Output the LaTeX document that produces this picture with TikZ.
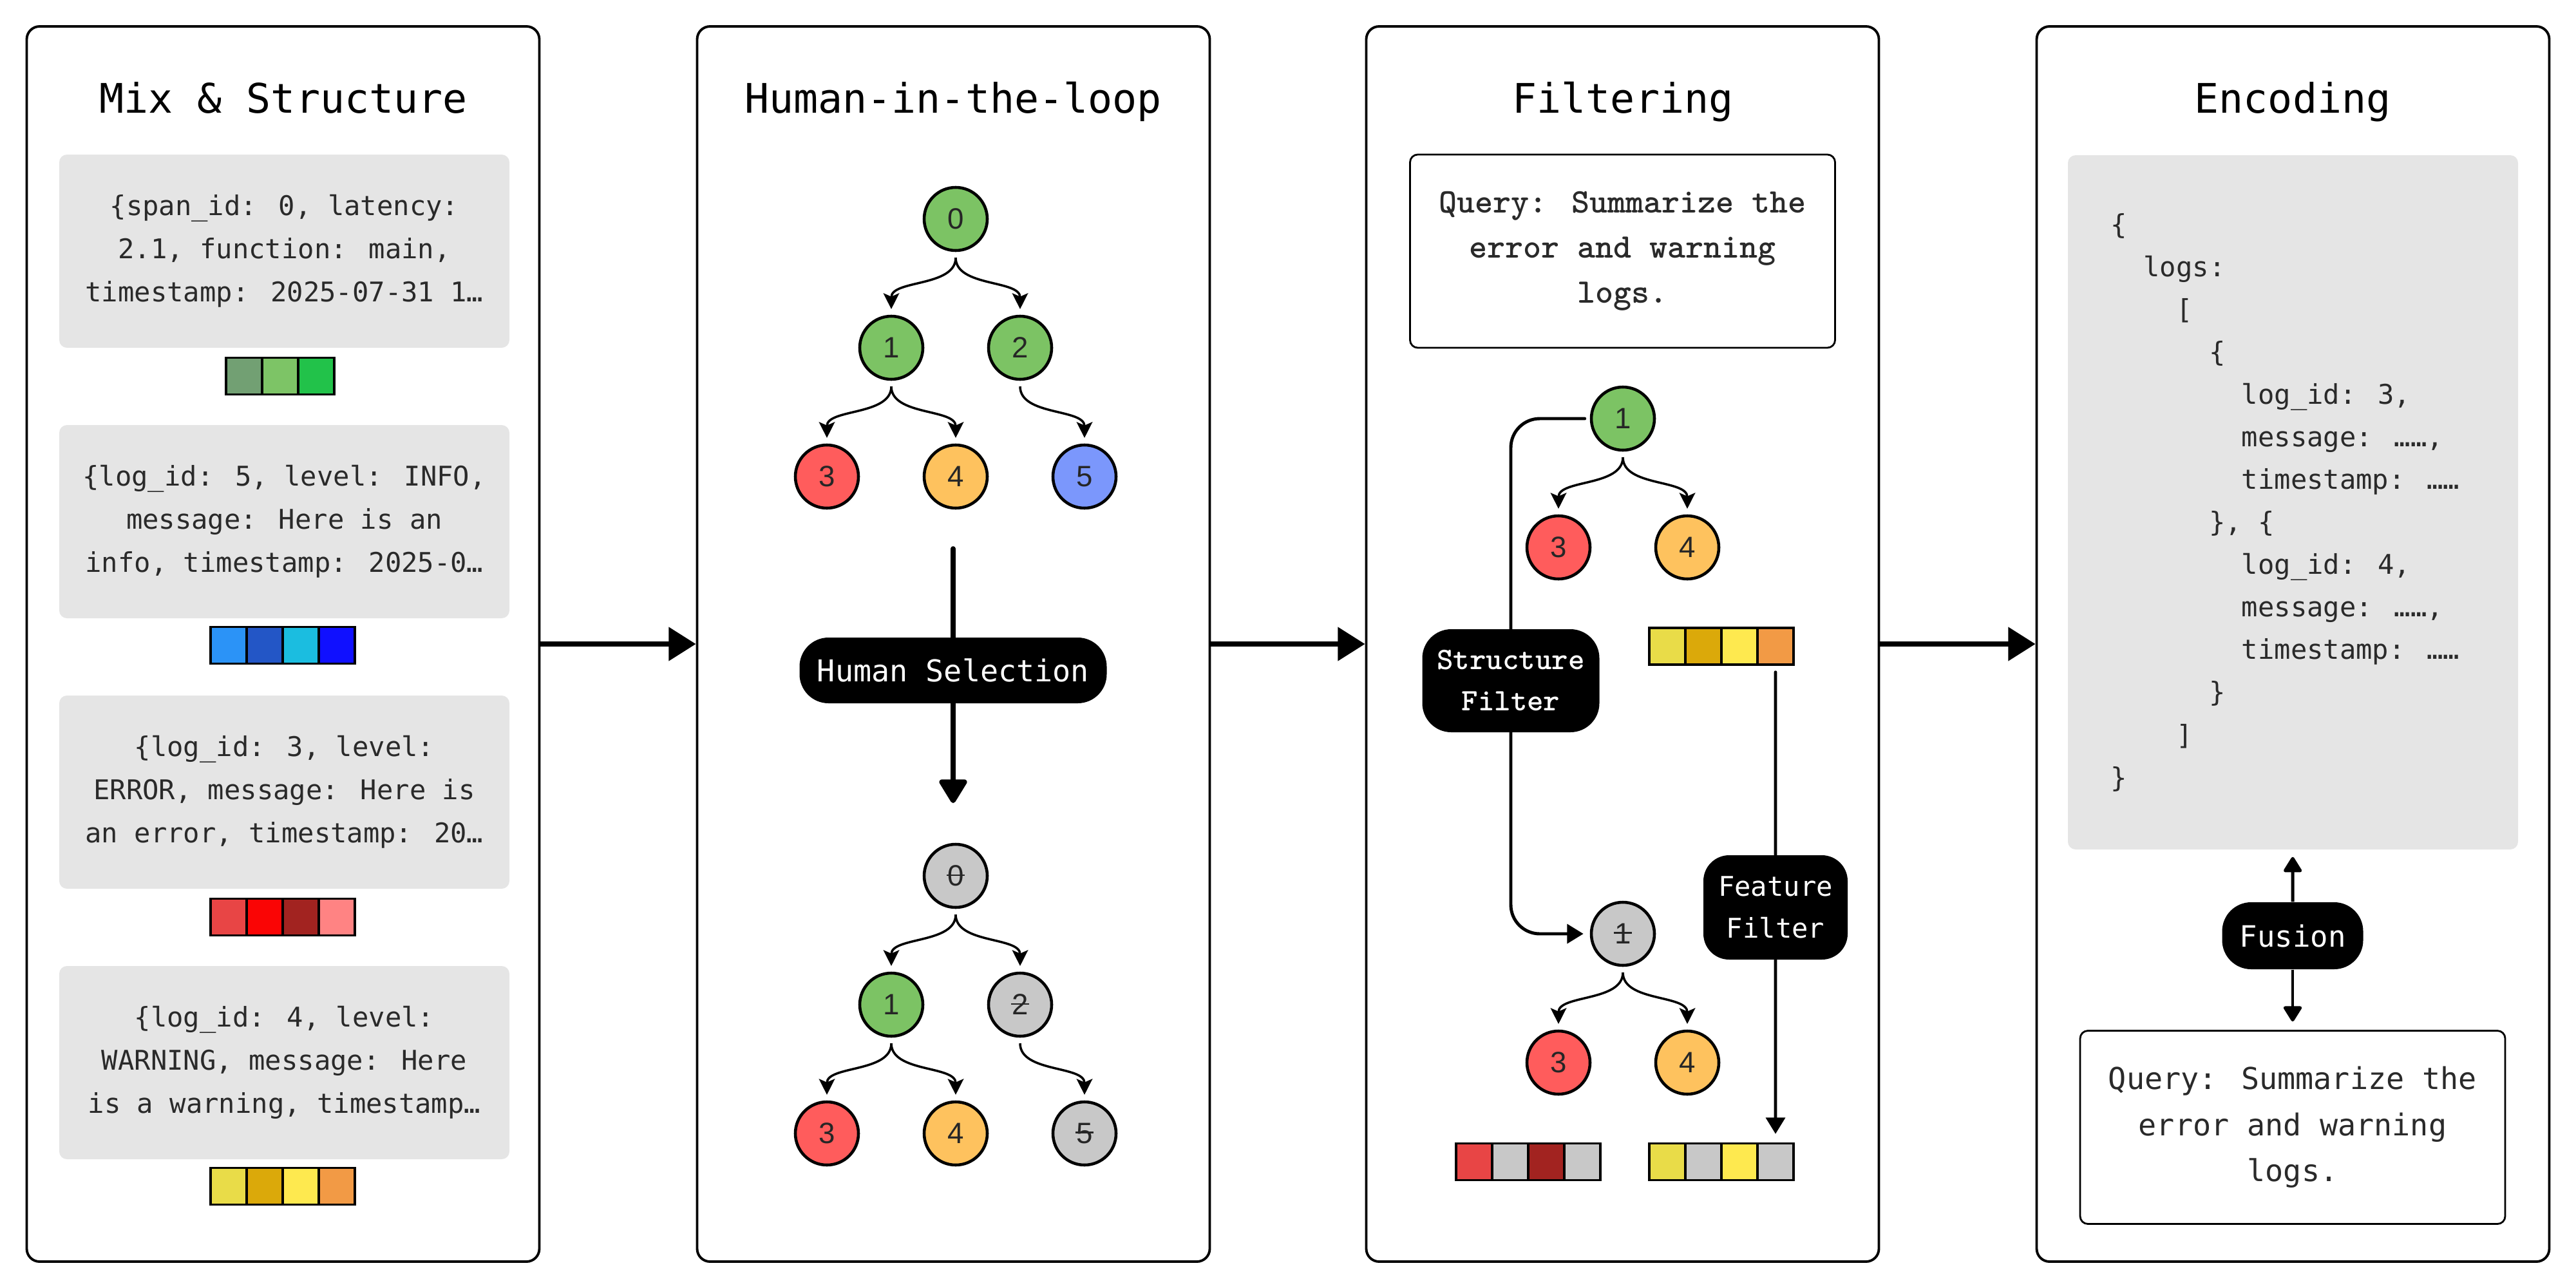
\documentclass[tikz,border=0pt]{standalone}
\usepackage{fontspec}
\usepackage{xcolor}
\usepackage{tikz}
\usetikzlibrary{arrows.meta, positioning}

\newfontfamily\plexmono{DejaVu Sans Mono}
\newfontfamily\numfont{Liberation Sans}

\definecolor{boxgray}{HTML}{E5E5E5}
\definecolor{txtgray}{HTML}{2A2A2A}
\definecolor{nodegreen}{HTML}{7CC364}
\definecolor{nodered}{HTML}{FF5C5C}
\definecolor{nodeorange}{HTML}{FEC25E}
\definecolor{nodeblue}{HTML}{7B97FC}
\definecolor{nodegray}{HTML}{C8C8C8}
\definecolor{g1}{HTML}{72A073}
\definecolor{g2}{HTML}{7DC466}
\definecolor{g3}{HTML}{22C24A}
\definecolor{b1}{HTML}{2B93F7}
\definecolor{b2}{HTML}{2356C6}
\definecolor{b3}{HTML}{1BBDE0}
\definecolor{b4}{HTML}{1010FF}
\definecolor{r1}{HTML}{E84545}
\definecolor{r2}{HTML}{FA0505}
\definecolor{r3}{HTML}{A22320}
\definecolor{r4}{HTML}{FF8383}
\definecolor{y1}{HTML}{E9DC48}
\definecolor{y2}{HTML}{DBA90A}
\definecolor{y3}{HTML}{FEE94F}
\definecolor{y4}{HTML}{F29A45}

\newcommand{\struck}[1]{\ooalign{#1\cr\hidewidth\rule[0.34em]{0.62em}{0.06em}\hidewidth\cr}}

\begin{document}
\begin{tikzpicture}[
        on grid,
        panel/.style={draw, line width=1.1pt, rounded corners=0.2cm, minimum width=7.96cm, minimum height=19.18cm},
        title/.style={anchor=base, font=\plexmono\fontsize{18}{22}\selectfont},
        logbox/.style={fill=boxgray, rounded corners=0.12cm, minimum width=6.99cm, minimum height=3cm, align=center, text=txtgray, font=\plexmono\fontsize{12}{19}\selectfont},
        querybox/.style={draw, line width=0.8pt, rounded corners=0.12cm, minimum width=6.6cm, minimum height=3cm, align=center, text=txtgray},
        cell/.style={draw, line width=1pt, minimum width=0.56cm, minimum height=0.57cm, inner sep=0pt},
        tnode/.style={circle, draw, line width=1.3pt, minimum size=0.98cm, inner sep=0pt, text=black!85, font=\numfont\fontsize{13}{13}\selectfont},
        tedge/.style={-{Stealth[length=7pt,width=7pt,inset=1.5pt]}, line width=1pt, shorten <=2.5pt, shorten >=2.5pt},
        pill/.style={fill=black, text=white, rounded corners=0.45cm, align=center, inner sep=0pt},
        bigarrow/.style={-{Triangle[length=12pt,width=14.5pt]}, line width=2.2pt},
        fat/.style={line width=2.2pt, line cap=round},
        fatarrow/.style={fat, -{Triangle[length=11.5pt,width=13.4pt,round]}},
        flow/.style={line width=1.4pt, line cap=round},
        flowarrow/.style={flow, -{Triangle[length=7.2pt,width=8.4pt]}},
        fusearrow/.style={line width=1.4pt, -{Triangle[length=7.4pt,width=8.8pt,round]}}
    ]
        \useasboundingbox (0,0) rectangle (40,-20);

        % Panels
        \node (p1) [panel] at (4.395,-10.0) {};
        \node (p2) [panel] at (14.805,-10.0) {};
        \node (p3) [panel] at (25.195,-10.0) {};
        \node (p4) [panel] at (35.605,-10.0) {};

        \node (t1) [title] at (4.40,-1.75) {Mix \& Structure};
        \node (t2) [title] at (14.80,-1.75) {Human-in-the-loop};
        \node (t3) [title] at (25.20,-1.75) {Filtering};
        \node (t4) [title] at (35.60,-1.75) {Encoding};

        % Mix & Structure: raw records
        \node (s1) [logbox] at (4.415,-3.90) {\{span\_id: 0, latency:\\2.1, function: main,\\timestamp: 2025-07-31 1…};
        \node (s2) [logbox] at (4.415,-8.10) {\{log\_id: 5, level: INFO,\\message: Here is an\\info, timestamp: 2025-0…};
        \node (s3) [logbox] at (4.415,-12.30) {\{log\_id: 3, level:\\ERROR, message: Here is\\an error, timestamp: 20…};
        \node (s4) [logbox] at (4.415,-16.50) {\{log\_id: 4, level:\\WARNING, message: Here\\is a warning, timestamp…};

        \foreach \c [count=\i] in {g1,g2,g3}
            \node (m1\i) [cell, fill=\c] at (3.23+0.56*\i,-5.84) {};
        \foreach \c [count=\i] in {b1,b2,b3,b4}
            \node (m2\i) [cell, fill=\c] at (2.99+0.56*\i,-10.02) {};
        \foreach \c [count=\i] in {r1,r2,r3,r4}
            \node (m3\i) [cell, fill=\c] at (2.99+0.56*\i,-14.24) {};
        \foreach \c [count=\i] in {y1,y2,y3,y4}
            \node (m4\i) [cell, fill=\c] at (2.99+0.56*\i,-18.42) {};

        % Human-in-the-loop: full tree
        \node (a0) [tnode, fill=nodegreen] at (14.84,-3.40) {0};
        \node (a1) [tnode, fill=nodegreen, below left=2cm and 1cm of a0] {1};
        \node (a2) [tnode, fill=nodegreen, below right=2cm and 1cm of a0] {2};
        \node (a3) [tnode, fill=nodered, below left=2cm and 1cm of a1] {3};
        \node (a4) [tnode, fill=nodeorange, below right=2cm and 1cm of a1] {4};
        \node (a5) [tnode, fill=nodeblue, below right=2cm and 1cm of a2] {5};
        \draw [tedge] (a0) to[out=-90, in=90] (a1);
        \draw [tedge] (a0) to[out=-90, in=90] (a2);
        \draw [tedge] (a1) to[out=-90, in=90] (a3);
        \draw [tedge] (a1) to[out=-90, in=90] (a4);
        \draw [tedge] (a2) to[out=-90, in=90] (a5);

        % Human-in-the-loop: selection
        \node (hs) [pill, minimum width=4.77cm, minimum height=1.02cm, font=\plexmono\fontsize{13.3}{16}\selectfont] at (14.80,-10.41) {Human Selection};
        \coordinate (hstop) at (14.80,-8.52);
        \coordinate (hsend) at (14.80,-12.47);
        \draw [fat] (hstop) -- (hs);
        \draw [fatarrow] (hs) -- (hsend);

        % Human-in-the-loop: pruned tree
        \node (b0) [tnode, fill=nodegray] at (14.84,-13.60) {\struck{0}};
        \node (b1) [tnode, fill=nodegreen, below left=2cm and 1cm of b0] {1};
        \node (b2) [tnode, fill=nodegray, below right=2cm and 1cm of b0] {\struck{2}};
        \node (b3) [tnode, fill=nodered, below left=2cm and 1cm of b1] {3};
        \node (b4) [tnode, fill=nodeorange, below right=2cm and 1cm of b1] {4};
        \node (b5) [tnode, fill=nodegray, below right=2cm and 1cm of b2] {\struck{5}};
        \draw [tedge] (b0) to[out=-90, in=90] (b1);
        \draw [tedge] (b0) to[out=-90, in=90] (b2);
        \draw [tedge] (b1) to[out=-90, in=90] (b3);
        \draw [tedge] (b1) to[out=-90, in=90] (b4);
        \draw [tedge] (b2) to[out=-90, in=90] (b5);

        % Filtering
        \node (q1) [querybox, font=\ttfamily\bfseries\fontsize{15.2}{19.9}\selectfont] at (25.195,-3.90) {Query: Summarize the\\error and warning\\logs.};

        \node (c1) [tnode, fill=nodegreen] at (25.20,-6.50) {1};
        \node (c3) [tnode, fill=nodered, below left=2cm and 1cm of c1] {3};
        \node (c4) [tnode, fill=nodeorange, below right=2cm and 1cm of c1] {4};
        \draw [tedge] (c1) to[out=-90, in=90] (c3);
        \draw [tedge] (c1) to[out=-90, in=90] (c4);

        \foreach \c [count=\i] in {y1,y2,y3,y4}
            \node (fy\i) [cell, fill=\c] at (25.33+0.56*\i,-10.035) {};

        \node (d1) [tnode, fill=nodegray] at (25.20,-14.50) {\struck{1}};
        \node (d3) [tnode, fill=nodered, below left=2cm and 1cm of d1] {3};
        \node (d4) [tnode, fill=nodeorange, below right=2cm and 1cm of d1] {4};
        \draw [tedge] (d1) to[out=-90, in=90] (d3);
        \draw [tedge] (d1) to[out=-90, in=90] (d4);

        \foreach \c [count=\i] in {r1,nodegray,r3,nodegray}
            \node (hr\i) [cell, fill=\c] at (22.33+0.56*\i,-18.04) {};
        \foreach \c [count=\i] in {y1,nodegray,y3,nodegray}
            \node (hy\i) [cell, fill=\c] at (25.33+0.56*\i,-18.04) {};

        \node (sf) [pill, minimum width=2.75cm, minimum height=1.6cm, font=\ttfamily\bfseries\fontsize{13.8}{18.2}\selectfont] at (23.46,-10.57) {Structure\\Filter};
        \draw [flow, rounded corners=0.45cm, shorten <=0.08cm] (c1.west) -| (sf.north);
        \draw [flowarrow, rounded corners=0.45cm, shorten >=0.1cm] (sf.south) |- (d1.west);

        \node (ff) [pill, rounded corners=0.4cm, minimum width=2.24cm, minimum height=1.62cm, font=\plexmono\fontsize{12}{18.5}\selectfont] at (27.57,-14.09) {Feature\\Filter};
        \draw [flow, shorten <=0.1cm] (fy4.south) -- (ff.north);
        \draw [flowarrow, shorten >=0.13cm] (ff.south) -- (hy4.north);

        % Encoding
        \node (g) [fill=boxgray, rounded corners=0.12cm, minimum width=6.99cm, minimum height=10.78cm] at (35.605,-7.80) {};
        \node (code) [anchor=west, align=left, inner sep=0pt, text=txtgray, font=\plexmono\fontsize{12}{18.8}\selectfont] at (32.77,-7.80) {%
            \{\\
            \phantom{xx}logs:\\
            \phantom{xxxx}[\\
            \phantom{xxxxxx}\{\\
            \phantom{xxxxxxxx}log\_id: 3,\\
            \phantom{xxxxxxxx}message: ……,\\
            \phantom{xxxxxxxx}timestamp: ……\\
            \phantom{xxxxxx}\}, \{\\
            \phantom{xxxxxxxx}log\_id: 4,\\
            \phantom{xxxxxxxx}message: ……,\\
            \phantom{xxxxxxxx}timestamp: ……\\
            \phantom{xxxxxx}\}\\
            \phantom{xxxx}]\\
            \}};

        \node (fu) [pill, minimum width=2.19cm, minimum height=1.04cm, font=\plexmono\fontsize{13}{16}\selectfont] at (35.60,-14.53) {Fusion};
        \node (q2) [querybox, font=\plexmono\fontsize{13.3}{20.4}\selectfont] at (35.60,-17.505) {Query: Summarize the\\error and warning\\logs.};
        \draw [fusearrow, shorten >=0.11cm] (fu) -- (g);
        \draw [fusearrow, shorten >=0.13cm] (fu) -- (q2);

        % Connections between stages
        \draw [bigarrow] (p1) -- (p2);
        \draw [bigarrow] (p2) -- (p3);
        \draw [bigarrow] (p3) -- (p4);
\end{tikzpicture}
\end{document}
